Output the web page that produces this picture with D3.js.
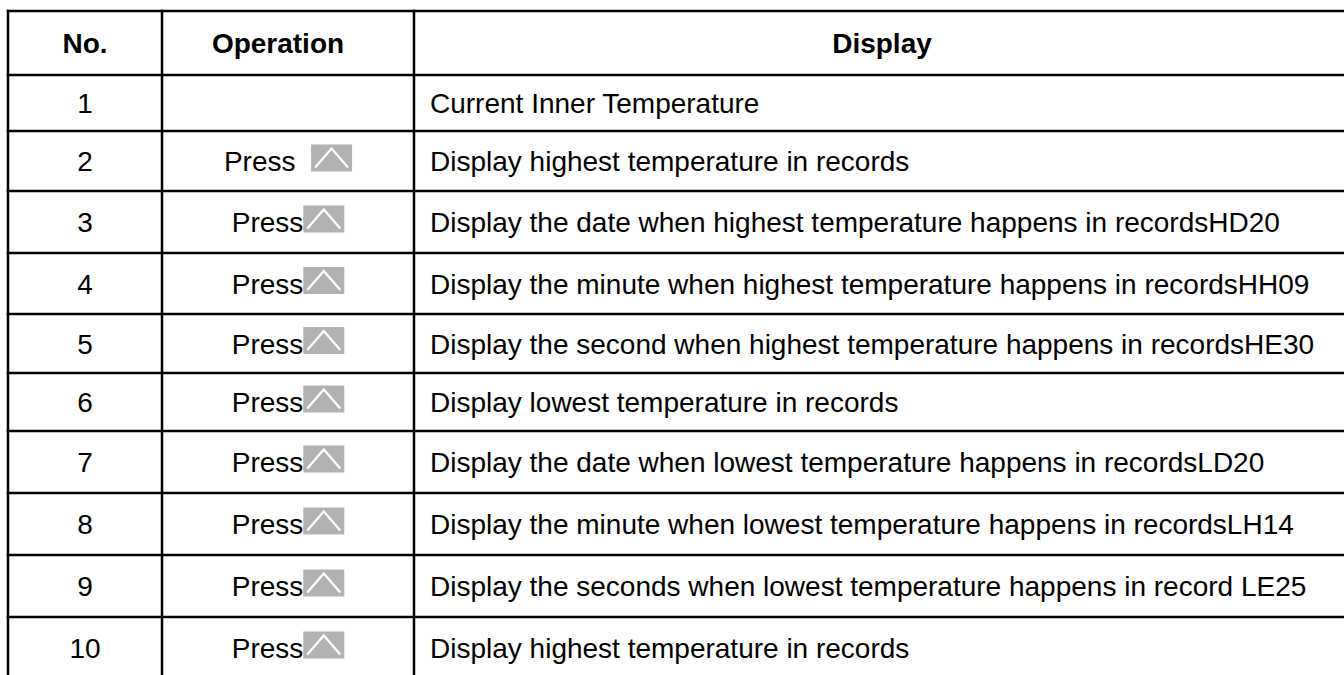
<!DOCTYPE html>
<html>
<head>
<meta charset="utf-8">
<script src="https://d3js.org/d3.v7.min.js"></script>
<style>
  body { margin: 0; background: #fff; }
  svg { display: block; }
  .cell { font-family: "Liberation Sans", Arial, sans-serif; font-size: 28px; fill: #000; white-space: pre; }
  .head { font-weight: bold; }
</style>
</head>
<body>
<script>
// table content
var headers = ["No.", "Operation", "Display"];
var nos = ["1", "2", "3", "4", "5", "6", "7", "8", "9", "10"];
var operations = ["", "Press  ", "Press", "Press", "Press", "Press", "Press", "Press", "Press", "Press"];
var displays = [
  "Current Inner Temperature",
  "Display highest temperature in records",
  "Display the date when highest temperature happens in recordsHD20",
  "Display the minute when highest temperature happens in recordsHH09",
  "Display the second when highest temperature happens in recordsHE30",
  "Display lowest temperature in records",
  "Display the date when lowest temperature happens in recordsLD20",
  "Display the minute when lowest temperature happens in recordsLH14",
  "Display the seconds when lowest temperature happens in record LE25",
  "Display highest temperature in records"
];

// layout
var W = 1344, H = 675;
var colEdges = [8, 162, 414, 1350];
var headTop = 11, headBottom = 75;
var rowHeights = [56, 60, 62, 61, 59, 58, 62, 62, 62, 62];
var fs = 28, capH = 0.716 * fs;

var svg = d3.select("body").append("svg")
  .attr("width", W).attr("height", H);

// row boundaries
var rowEdges = [headBottom];
rowHeights.forEach(function(h, i) { rowEdges.push(rowEdges[i] + h); });

var x = d3.scaleOrdinal().domain(headers).range(colEdges.slice(0, 3));
var xEnd = d3.scaleOrdinal().domain(headers).range(colEdges.slice(1));
var y = d3.scaleOrdinal().domain(nos).range(rowEdges.slice(0, -1));
var yEnd = d3.scaleOrdinal().domain(nos).range(rowEdges.slice(1));

function mid(c) { return (x(c) + xEnd(c)) / 2; }

// header text (Operation sits a bit left of centre in the original)
svg.selectAll(".head").data(headers).enter().append("text")
  .attr("class", "cell head")
  .attr("x", function(d) { return d == "Operation" ? mid(d) - 10 : mid(d); })
  .attr("y", (headTop + headBottom) / 2 + capH / 2)
  .attr("text-anchor", "middle")
  .text(function(d) { return d; });

var rows = svg.selectAll(".row").data(nos).enter().append("g").attr("class", "row");

function baseY(d) { return (y(d) + yEnd(d)) / 2 + capH / 2; }

rows.append("text")
  .attr("class", "cell")
  .attr("x", mid("No."))
  .attr("y", baseY)
  .attr("text-anchor", "middle")
  .text(function(d) { return d; });

rows.append("text")
  .attr("class", "cell")
  .attr("x", x("Display") + 16)
  .attr("y", baseY)
  .text(function(d, i) { return displays[i]; });

// operation: "Press" + gray up button
var iconW = 41, iconH = 27;
rows.each(function(d, i) {
  var op = operations[i];
  if (!op) return;
  var g = d3.select(this);
  var t = g.append("text").attr("class", "cell").attr("y", baseY(d)).text(op);
  var tw = t.node().getComputedTextLength();
  var total = tw + iconW;
  var x0 = mid("Operation") - total / 2;
  t.attr("x", x0);
  var ix = x0 + tw, iy = (y(d) + yEnd(d)) / 2 - iconH / 2 - 3;
  g.append("rect")
    .attr("x", ix).attr("y", iy)
    .attr("width", iconW).attr("height", iconH)
    .attr("fill", "#b2b2b2");
  g.append("path")
    .attr("d", "M" + (ix + 4) + "," + (iy + iconH - 4) +
               "L" + (ix + iconW / 2) + "," + (iy + 4) +
               "L" + (ix + iconW - 4) + "," + (iy + iconH - 4))
    .attr("fill", "none").attr("stroke", "#fff").attr("stroke-width", 2.2);
});

// grid lines
var lw = 2.5;
var hLines = [headTop].concat(rowEdges.slice(0, -1));
svg.selectAll(".hl").data(hLines).enter().append("line")
  .attr("x1", colEdges[0] - lw / 2).attr("x2", colEdges[3])
  .attr("y1", function(d) { return d; }).attr("y2", function(d) { return d; })
  .attr("stroke", "#000").attr("stroke-width", lw);
svg.selectAll(".vl").data(colEdges.slice(0, 3)).enter().append("line")
  .attr("x1", function(d) { return d; }).attr("x2", function(d) { return d; })
  .attr("y1", headTop - lw / 2).attr("y2", rowEdges[rowEdges.length - 1])
  .attr("stroke", "#000").attr("stroke-width", lw);
</script>
</body>
</html>
